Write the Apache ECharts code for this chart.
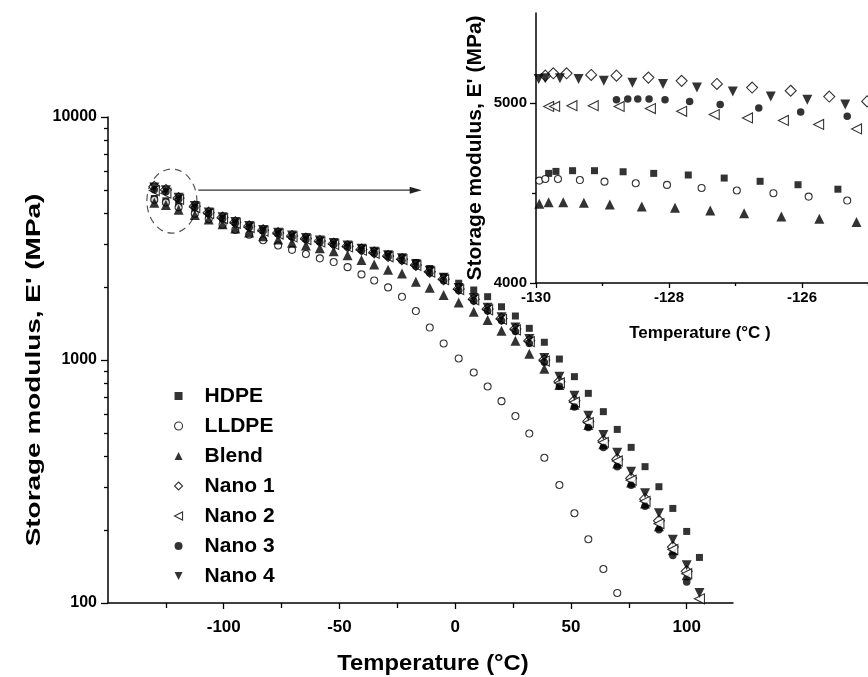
<!DOCTYPE html>
<html><head><meta charset="utf-8">
<script src="https://cdn.jsdelivr.net/npm/echarts@6/dist/echarts.min.js"></script>
<style>html,body{margin:0;padding:0;background:#fff}#c{width:868px;height:677px}</style>
</head><body><div id="c"></div>
<script>
// ---------- data ----------
const seriesNames = ['HDPE', 'LLDPE', 'Blend', 'Nano 1', 'Nano 2', 'Nano 3', 'Nano 4'];

// main chart: temperature (°C)
const mainTemps = [-130, -125, -119.5, -112.5, -106.5, -100.5, -95, -89, -83, -76.5, -70.5, -64.5, -58.5, -52.5, -46.5, -40.5, -35, -29, -23, -17, -11, -5, 1.5, 8, 14, 20, 26, 32, 38.5, 45, 51.5, 57.5, 64, 70, 76, 82, 88, 94, 100, 105.5];
// main chart: storage modulus E' (MPa)
const mainHDPE  = [4620, 4520, 4400, 4200, 4000, 3830, 3680, 3540, 3420, 3330, 3240, 3170, 3100, 3030, 2960, 2880, 2800, 2720, 2640, 2520, 2380, 2200, 2070, 1941, 1822, 1656, 1517, 1350, 1183, 1009, 854, 729, 613, 518, 437, 364, 301, 245, 197, 154];
const mainLLDPE = [4570, 4450, 4250, 4000, 3800, 3600, 3430, 3280, 3110, 2960, 2840, 2730, 2620, 2530, 2410, 2250, 2125, 1990, 1820, 1590, 1360, 1170, 1015, 888, 778, 677, 588, 498, 396, 306, 234, 183, 138, 110, null, null, null, null, null, null];
const mainBlend = [4440, 4340, 4150, 3950, 3790, 3620, 3480, 3350, 3230, 3130, 3040, 2960, 2880, 2800, 2700, 2580, 2470, 2350, 2270, 2100, 1985, 1850, 1725, 1580, 1460, 1320, 1200, 1060, 920, 790, 655, 540, 450, 375, 313, 257, 207, 165, 130, null];
const mainNano1 = [5160, 5010, 4640, 4290, 4040, 3860, 3690, 3550, 3420, 3330, 3240, 3160, 3090, 3010, 2940, 2850, 2770, 2680, 2600, 2460, 2310, 2150, 1960, 1780, 1620, 1480, 1340, 1200, 1000, 815, 680, 560, 465, 390, 326, 268, 218, 170, 135, null];
const mainNano2 = [4980, 4860, 4580, 4240, 4000, 3820, 3650, 3510, 3390, 3300, 3210, 3130, 3060, 2990, 2920, 2830, 2750, 2660, 2590, 2450, 2300, 2140, 1950, 1770, 1610, 1470, 1330, 1190, 990, 805, 670, 552, 458, 384, 320, 262, 212, 166, 132, 104];
const mainNano3 = [5020, 4920, 4600, 4250, 4000, 3820, 3660, 3520, 3400, 3300, 3210, 3130, 3060, 2990, 2920, 2830, 2750, 2660, 2570, 2430, 2280, 2120, 1930, 1750, 1590, 1450, 1310, 1170, 980, 780, 640, 528, 436, 364, 305, 250, 200, 157, 122, null];
const mainNano4 = [5130, 4990, 4650, 4300, 4050, 3870, 3700, 3560, 3430, 3340, 3250, 3180, 3100, 3030, 2960, 2870, 2790, 2700, 2620, 2480, 2330, 2180, 1980, 1800, 1640, 1500, 1360, 1220, 1020, 854, 712, 590, 491, 415, 347, 283, 234, 182, 143, 110];

// inset (zoom of -130 .. -125 °C)
const insetHDPE_T  = [-129.81, -129.70, -129.45, -129.12, -128.69, -128.23, -127.71, -127.17, -126.63, -126.06, -125.46];
const insetHDPE_E  = [4609, 4620, 4624, 4624, 4618, 4609, 4600, 4583, 4565, 4546, 4521];
const insetLLDPE_T = [-129.95, -129.86, -129.67, -129.34, -128.97, -128.50, -128.03, -127.51, -126.98, -126.43, -125.90, -125.32];
const insetLLDPE_E = [4569, 4578, 4578, 4572, 4563, 4554, 4545, 4528, 4514, 4499, 4480, 4458];
const insetBlend_T = [-129.95, -129.81, -129.59, -129.28, -128.89, -128.41, -127.91, -127.38, -126.87, -126.31, -125.74, -125.18];
const insetBlend_E = [4440, 4449, 4449, 4446, 4436, 4425, 4418, 4403, 4388, 4370, 4357, 4339];
const insetNano1_T = [-129.86, -129.74, -129.54, -129.17, -128.79, -128.31, -127.81, -127.28, -126.75, -126.17, -125.59, -125.02];
const insetNano1_E = [5152, 5165, 5165, 5156, 5152, 5141, 5123, 5106, 5086, 5068, 5036, 5009];
const insetNano2_T = [-129.81, -129.72, -129.46, -129.14, -128.75, -128.28, -127.81, -127.32, -126.82, -126.28, -125.75, -125.18];
const insetNano2_E = [4981, 4981, 4985, 4985, 4981, 4969, 4954, 4936, 4917, 4903, 4881, 4856];
const insetNano3_T = [-128.79, -128.62, -128.47, -128.30, -128.06, -127.69, -127.23, -126.65, -126.02, -125.32];
const insetNano3_E = [5018, 5022, 5022, 5022, 5018, 5009, 4991, 4972, 4950, 4926];
const insetNano4_T = [-129.96, -129.86, -129.64, -129.36, -128.98, -128.55, -128.09, -127.58, -127.04, -126.47, -125.92, -125.35];
const insetNano4_E = [5134, 5137, 5137, 5134, 5123, 5113, 5106, 5086, 5064, 5036, 5018, 4991];

// tick labels
const mainXTicks = [-100, -50, 0, 50, 100];
const mainXMinor = [-125, -75, -25, 25, 75];
const mainYTicks = [100, 1000, 10000];
const mainYMinor = [200, 300, 400, 500, 600, 700, 800, 900, 2000, 3000, 4000, 5000, 6000, 7000, 8000, 9000];
const insetXTicks = [-130, -128, -126, -124];
const insetXMinor = [-129, -127, -125];
const insetYTicks = [4000, 5000];
const insetYMinor = [4500];

// ---------- styling ----------
const FONT = '"Liberation Sans", Arial, Helvetica, sans-serif';
const look = {
  'HDPE':   {symbol: 'rect',     size: 7,   rotate: 0,   open: false, icon: 'rect'},
  'LLDPE':  {symbol: 'circle',   size: 7,   rotate: 0,   open: true,  icon: 'circle'},
  'Blend':  {symbol: 'triangle', size: 10,  rotate: 0,   open: false, icon: 'triangle'},
  'Nano 1': {symbol: 'diamond',  size: 11,  rotate: 0,   open: true,  icon: 'diamond'},
  'Nano 2': {symbol: 'triangle', size: 10,  rotate: 90,  open: true,  icon: 'path://M10,0L10,10L0,5Z'},
  'Nano 3': {symbol: 'circle',   size: 7.5, rotate: 0,   open: false, icon: 'circle'},
  'Nano 4': {symbol: 'triangle', size: 10,  rotate: 180, open: false, icon: 'path://M0,0L10,0L5,10Z'}
};
const mainValues = [mainHDPE, mainLLDPE, mainBlend, mainNano1, mainNano2, mainNano3, mainNano4];
const insetT = [insetHDPE_T, insetLLDPE_T, insetBlend_T, insetNano1_T, insetNano2_T, insetNano3_T, insetNano4_T];
const insetE = [insetHDPE_E, insetLLDPE_E, insetBlend_E, insetNano1_E, insetNano2_E, insetNano3_E, insetNano4_E];

function styleOf(name) {
  return look[name].open ? {color: '#fff', borderColor: '#000', borderWidth: 1.1}
                         : {color: '#000', borderColor: '#000', borderWidth: 0};
}
function makeSeries(name, data, xi, yi) {
  const s = look[name];
  return {
    type: 'scatter', name, data, xAxisIndex: xi, yAxisIndex: yi,
    symbol: s.symbol, symbolSize: s.size, symbolRotate: s.rotate,
    itemStyle: styleOf(name),
    emphasis: {disabled: true}, silent: true
  };
}
const series = [];
seriesNames.forEach((n, k) => {
  const d = [];
  mainTemps.forEach((t, i) => { if (mainValues[k][i] != null) d.push([t, mainValues[k][i]]); });
  series.push(makeSeries(n, d, 0, 0));
});
seriesNames.forEach((n, k) => {
  series.push(makeSeries(n, insetT[k].map((t, i) => [t, insetE[k][i]]), 2, 2));
});

const axisLine = {show: true, onZero: false, lineStyle: {color: '#000', width: 1.5}};
const noLine = {show: false, onZero: false};
const tickLine = {color: '#000', width: 1.3};
const lbl = (size) => ({color: '#000', fontSize: size, fontWeight: 'bold', fontFamily: FONT});
const plain = (v) => String(v);

const option = {
  animation: false,
  backgroundColor: '#fff',
  grid: [
    {left: 108, top: 117, width: 625, height: 486, outerBoundsMode: 'none', containLabel: false},
    {left: 536, top: 13, width: 399, height: 270, outerBoundsMode: 'none', containLabel: false}
  ],
  legend: {
    data: seriesNames.map(n => ({name: n, icon: look[n].icon, itemStyle: styleOf(n)})),
    orient: 'vertical', left: 169, top: 380,
    itemWidth: 8, itemHeight: 8, itemGap: 8,
    textStyle: Object.assign(lbl(21), {lineHeight: 22, padding: [0, 0, 0, 17]}),
    selectedMode: false
  },
  xAxis: [
    {gridIndex: 0, type: 'value', position: 'bottom', min: -150, max: 120, axisLine,
     axisTick: {show: true, customValues: mainXTicks, length: 6, lineStyle: tickLine},
     axisLabel: Object.assign(lbl(17), {customValues: mainXTicks, margin: 16, formatter: plain}),
     splitLine: {show: false}},
    {gridIndex: 0, type: 'value', position: 'bottom', min: -150, max: 120, axisLine: noLine,
     axisTick: {show: true, customValues: mainXMinor, length: 5, lineStyle: tickLine},
     axisLabel: {show: false}, splitLine: {show: false}},
    {gridIndex: 1, type: 'value', position: 'bottom', min: -130, max: -124, axisLine,
     axisTick: {show: true, customValues: insetXTicks, length: 5, lineStyle: tickLine},
     axisLabel: Object.assign(lbl(15), {customValues: insetXTicks, margin: 7, formatter: plain}),
     splitLine: {show: false}},
    {gridIndex: 1, type: 'value', position: 'bottom', min: -130, max: -124, axisLine: noLine,
     axisTick: {show: true, customValues: insetXMinor, length: 3, lineStyle: tickLine},
     axisLabel: {show: false}, splitLine: {show: false}}
  ],
  yAxis: [
    {gridIndex: 0, type: 'log', logBase: 10, position: 'left', min: 100, max: 10000, axisLine,
     axisTick: {show: true, customValues: mainYTicks, length: 7, lineStyle: tickLine},
     axisLabel: Object.assign(lbl(16), {customValues: mainYTicks, margin: 11, formatter: plain}),
     splitLine: {show: false}},
    {gridIndex: 0, type: 'log', logBase: 10, position: 'left', min: 100, max: 10000, axisLine: noLine,
     axisTick: {show: true, customValues: mainYMinor, length: 4, lineStyle: tickLine},
     axisLabel: {show: false}, splitLine: {show: false}},
    {gridIndex: 1, type: 'value', position: 'left', min: 4000, max: 5500, axisLine,
     axisTick: {show: true, customValues: insetYTicks, length: 6, lineStyle: tickLine},
     axisLabel: Object.assign(lbl(15), {customValues: insetYTicks, margin: 9, formatter: plain}),
     name: "Storage modulus, E' (MPa)", nameLocation: 'middle', nameGap: 50,
     nameTextStyle: lbl(21),
     splitLine: {show: false}},
    {gridIndex: 1, type: 'value', position: 'left', min: 4000, max: 5500, axisLine: noLine,
     axisTick: {show: true, customValues: insetYMinor, length: 4, lineStyle: tickLine},
     axisLabel: {show: false}, splitLine: {show: false}}
  ],
  series
};
const chart = echarts.init(document.getElementById('c'));
chart.setOption(option);

// annotations anchored through the main grid's scales
const ellC = chart.convertToPixel({gridIndex: 0}, [-122.4, 4510]);
const arrA = chart.convertToPixel({gridIndex: 0}, [-111, 5000]);
const arrB = chart.convertToPixel({gridIndex: 0}, [-14.5, 5000]);
chart.setOption({
  graphic: [
    {type: 'ellipse', shape: {cx: ellC[0], cy: ellC[1], rx: 25, ry: 32},
     style: {fill: 'none', stroke: '#555', lineWidth: 1.2, lineDash: [7, 5]}, silent: true},
    {type: 'line', shape: {x1: arrA[0], y1: arrA[1], x2: arrB[0] - 10, y2: arrB[1]},
     style: {stroke: '#333', lineWidth: 1.2}, silent: true},
    {type: 'polygon', shape: {points: [[arrB[0], arrB[1]], [arrB[0] - 12, arrB[1] - 3.5], [arrB[0] - 12, arrB[1] + 3.5]]},
     style: {fill: '#222'}, silent: true},
    {type: 'text', x: 34, y: 370, rotation: Math.PI / 2, scaleX: 1.33, silent: true,
     style: {text: "Storage modulus, E' (MPa)", font: 'bold 21px ' + FONT, fill: '#000', align: 'center', verticalAlign: 'middle'}},
    {type: 'text', x: 433, y: 664, scaleX: 1.08, silent: true,
     style: {text: 'Temperature (°C)', font: 'bold 22px ' + FONT, fill: '#000', align: 'center', verticalAlign: 'middle'}},
    {type: 'text', x: 700, y: 333, silent: true,
     style: {text: 'Temperature (°C )', font: 'bold 17px ' + FONT, fill: '#000', align: 'center', verticalAlign: 'middle'}}
  ]
});
</script></body></html>
